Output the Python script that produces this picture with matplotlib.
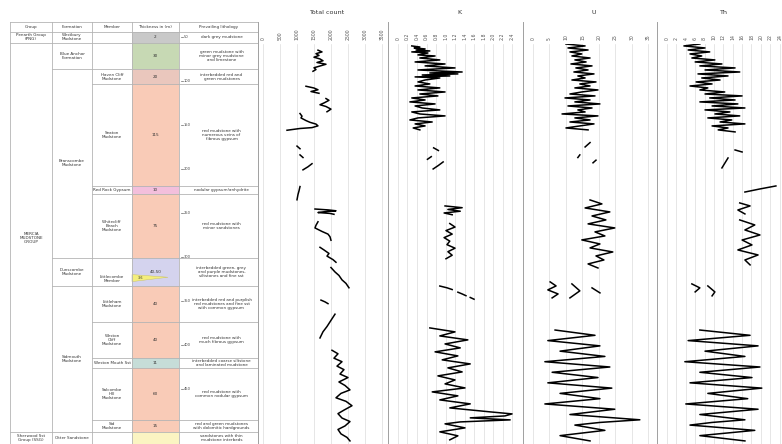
import numpy as np
import matplotlib
matplotlib.use("Agg")
import matplotlib.pyplot as plt
from matplotlib.patches import Rectangle, Polygon
from matplotlib.lines import Line2D

nan = np.nan

# ---------------- stratigraphic table data ----------------
columns = ["Group", "Formation", "Member", "Thickness in (m)", "Prevailing lithology"]
groups = ["Penarth Group\n(PNG)", "MERCIA\nMUDSTONE\nGROUP", "Sherwood Sst\nGroup (SSG)"]
group_tops = [44, 57, 499]
formations = ["Westbury\nMudstone", "Blue Anchor\nFormation", "Branscombe\nMudstone",
              "Dunscombe\nMudstone", "Sidmouth\nMudstone", "Otter Sandstone"]
formation_tops = [44, 57, 86, 301, 333, 499]
unit_tops = [44, 57, 86, 104, 219, 228, 301, 333, 374, 415, 426, 485, 499]
table_bottom = 512.5
members = ["", "", "Haven Cliff\nMudstone", "Seaton\nMudstone", "Red Rock Gypsum",
           "Whitecliff\nBeach\nMudstone", "", "Littleham\nMudstone", "Weston\nCliff\nMudstone",
           "Weston Mouth Sst", "Salcombe\nHill\nMudstone", "Sid\nMudstone", ""]
thickness = ["2", "30", "20", "115", "10", "75", "40-50", "40", "40", "11", "60", "15", ""]
unit_colors = ["#c9c9c9", "#c7d9b4", "#eac7bd", "#f9cbb7", "#f3bfdc", "#f9cbb7", "#d4d3ee",
               "#f9cbb7", "#f9cbb7", "#c6ddd8", "#f9cbb7", "#f9cbb7", "#fbf4c2"]
lithology = ["dark grey mudstone",
             "green mudstone with\nminor grey mudstone\nand limestone",
             "interbedded red and\ngreen mudstones",
             "red mudstone with\nnumerous veins of\nfibrous gypsum",
             "nodular gypsum/anhydrite",
             "red mudstone with\nminor sandstones",
             "interbedded green, grey\nand purple mudstones,\nsiltstones and fine sst",
             "interbedded red and purplish\nred mudstones and fine sst\nwith common gypsum",
             "red mudstone with\nmuch fibrous gypsum",
             "interbedded coarse siltstone\nand laminated mudstone",
             "red mudstone with\ncommon nodular gypsum",
             "red and green mudstones\nwith dolomitic hardgrounds",
             "sandstones with thin\nmudstone interbeds"]
wedge_name = "Littlecombe\nMember"
wedge_thickness = "3-6"
wedge_top, wedge_bottom = 320, 328
depth_marks = [50, 100, 150, 200, 250, 300, 350, 400, 450]

# ---------------- log data (depth in m) ----------------
tc_depth = [65, 67, 69, 71, 73, 75, 77, 79, 81, 83, 85, 87, 89, nan,
            106, 108, 110, 112, 114, nan,
            120, 122, 125, 127, 129, 132, 135, nan,
            137, 140, 142, 145, 147, 149, 151, 153, 154, 156, nan,
            174, 177, nan, 184, 187, nan, 194, 197.5, 201, nan,
            220, 225, 229, 235, nan,
            245.5, 246.5, 247.5, 248.5, 249.5, 250.5, 251.5, nan,
            260, 264, 267, 271, 274, 277, 281, nan,
            289, 292, 296, 299, 303, 306, nan,
            312, 317, 321, 326, 330, 335, nan,
            349, 351, 353, nan,
            365, 372, 379, 385, 392, nan,
            406, 410, 415, 419, 424, 428, 433, 437, 442, 446, 451, 455, 460, 464, 469, 474,
            478, 483, 487, 492, 496, 501, 505, 509]
tc_value = [1617, 1735, 1558, 1646, 1499, 1676, 1764, 1588, 1852, 1676, 1499, 1558, 1470, nan,
            1264, 1499, 1617, 1411, 1646, nan,
            1852, 1940, 1793, 1676, 1852, 1999, 1882, nan,
            1088, 1147, 1117, 1264, 1382, 1558, 1617, 1441, 1088, 706, nan,
            1000, 1088, nan, 1088, 1176, nan, 1441, 1323, 1176, nan,
            1088, 1058, 1029, 1000, nan,
            1529, 1911, 2146, 1823, 1617, 1970, 2087, nan,
            1617, 1558, 1529, 1735, 1911, 1970, 1999, nan,
            1676, 1793, 1940, 1882, 2058, 2146, nan,
            1999, 2117, 2234, 2323, 2440, 2528, nan,
            1705, 1823, 1911, nan,
            2117, 1999, 1882, 1764, 1676, nan,
            2029, 2205, 2087, 2323, 2176, 2381, 2264, 2499, 2234, 2411, 2558, 2293, 2146, 2440, 2617, 2381,
            2205, 2323, 2558, 2411, 2205, 2293, 2470, 2558]

k_depth = [60.2, 61.4, 62.5, 63.6, 64.8, 65.9, 67.0, 68.2, 70.4, 71.6, 73.9, 76.1, 78.4, 80.7, 82.9,
           85.2, 87.5, 89.8, 90.9, 92.0, 93.2, 94.3, 95.4, 96.6, 98.9, 101.1,
           103.4, 105.7, 107.9, 110.2, 112.5, 114.8, 117.0, 119.3, 121.6, 123.8, 126.1, 128.4,
           130.7, 132.9, 135.2, 137.5, 139.7, 142.0, 144.3, 146.6, 148.8, 151.1, 153.4, 155.6, nan,
           176, 179, nan, 186, 189, nan, 192, 196, 200, nan,
           242, 244, 246, 248, 250, 252, nan,
           262, 266, 270, 274, 278, 282, 286, 290, 294, 298, 302, nan,
           333, 335, 337, nan, 340, 342, 344, nan, 346, 348, nan,
           380.6, 385.1, 389.7, 394.2, 398.8, 403.3, 407.8, 412.4, 416.9, 421.5, 426.0, 430.6,
           435.1, 439.7, 444.2, 448.8, 453.3, 457.8, 462.4, 466.9, 471.5, 476.0, 478.3, 480.6,
           482.8, 485.1, 487.4, 489.6, 494.2, 498.7, 503.2, 507.8]
k_value = [0.29, 0.46, 0.34, 0.57, 0.38, 0.67, 0.29, 0.63, 0.42, 0.78, 0.46, 0.88, 0.36, 0.99, 0.57,
           1.20, 0.42, 1.35, 0.67, 1.26, 0.51, 1.09, 0.36, 0.88, 0.57, 0.42,
           0.67, 0.36, 0.88, 0.42, 0.99, 0.46, 0.84, 0.29, 0.57, 0.25, 0.78, 0.36,
           0.51, 0.88, 0.29, 0.46, 0.99, 0.42, 0.25, 0.72, 0.36, 0.57, 0.32, 0.46, nan,
           0.75, 0.85, nan, 0.70, 0.62, nan, 0.95, 0.85, 0.74, nan,
           0.99, 1.35, 1.05, 1.31, 0.97, 1.14, nan,
           1.09, 1.20, 1.01, 1.14, 0.97, 1.09, 1.03, 1.20, 1.05, 1.14, 1.01, nan,
           0.88, 1.03, 1.14, nan, 1.26, 1.35, 1.43, nan, 1.52, 1.60, nan,
           0.67, 1.20, 0.88, 1.47, 0.99, 1.31, 0.78, 1.26, 0.93, 1.52, 1.05, 1.35,
           0.84, 1.20, 0.99, 1.41, 0.72, 1.26, 0.88, 1.52, 1.09, 1.94, 2.40, 2.25,
           1.52, 2.36, 1.31, 0.99, 1.41, 0.88, 1.26, 1.09]

u_depth = [58.0, 60.2, 62.5, 64.8, 67.0, 69.3, 71.6, 73.9, 76.1, 78.4, 80.7, 82.9, 85.2, 87.5, 89.8,
           92.0, 94.3, 96.6, 98.9, 101.1, 103.4, 105.7, 107.9, 110.2, 112.5, 114.8, 117.0, 119.3,
           121.6, 123.8, 126.1, 128.4, 130.7, 132.9, 135.2, 137.5, 139.7, 142.0, 144.3, 146.6,
           148.8, 151.1, 153.4, 155.6, nan,
           170, 175, nan, 184, 187, nan, 190, 193, nan,
           235.2, 239.7, 244.3, 248.8, 253.4, 257.9, 262.4, 267.0, 271.5, 276.1, 280.6, 285.2,
           289.7, 294.3, 298.8, 303.4, 307.9, 312.5, nan,
           328.3, 332.9, 337.4, 342.0, 346.5, nan, 330.6, 338.5, 346.5, nan, 335.1, 340.8, nan,
           383, 389, 395, 401, 407, 413, 419, 425, 431, 437, 443, 449,
           455, 461, 467, 473, 479, 485, 488, 491, 497, 503, 509]
u_value = [10.0, 15.8, 10.6, 16.7, 11.2, 14.8, 11.8, 17.3, 12.7, 16.1, 11.5, 17.9, 13.0, 16.7, 12.4,
           18.5, 13.6, 15.8, 11.8, 19.1, 14.2, 17.3, 12.7, 19.7, 14.8, 11.2, 18.8, 9.7,
           17.3, 12.7, 20.3, 10.6, 17.9, 13.6, 15.8, 8.8, 19.7, 12.7, 17.3, 11.2,
           18.5, 14.2, 10.0, 16.7, nan,
           17.3, 15.8, nan, 14.2, 13.6, nan, 19.1, 18.2, nan,
           17.3, 20.9, 15.8, 23.3, 17.9, 22.1, 16.7, 24.8, 18.8, 21.8, 14.8, 20.3,
           17.3, 24.2, 19.1, 21.5, 16.7, 19.7, nan,
           5.2, 7.0, 4.5, 7.6, 5.8, nan, 11.8, 14.2, 11.2, nan, 17.9, 20.3, nan,
           6.7, 18.8, 4.5, 20.3, 8.2, 21.8, 3.6, 23.3, 5.8, 19.7, 4.5, 23.9,
           8.2, 20.3, 3.6, 24.8, 11.2, 32.4, 20.3, 12.7, 21.8, 8.2, 17.3]

th_depth = [58.0, 60.2, 62.5, 64.8, 67.0, 69.3, 71.6, 73.9, 76.1, 78.4, 80.7, 82.9, 85.2, 87.5, 89.8,
            92.0, 94.3, 96.6, 98.9, 101.1, 103.4, 105.7, 107.9, 110.2, 112.5, 114.8, 117.0, 119.3,
            121.6, 123.8, 126.1, 128.4, 130.7, 132.9, 135.2, 137.5, 139.7, 142.0, 144.3, 146.6,
            148.8, 151.1, 153.4, 155.6, 157.9, nan,
            178.4, 180.7, nan, 187.5, 198.8, nan, 219.3, 222.7, 226.2, nan,
            238.6, 242.0, 246.6, 251.1, nan,
            257.9, 263.6, 269.3, 275.0, 280.7, 286.3, 292.0, 297.7, 303.4, 309.0, nan,
            330.6, 335.1, 339.7, nan, 332.9, 339.7, 344.2, nan,
            383, 389, 395, 401, 407, 413, 419, 425, 431, 437, 443, 449,
            455, 461, 467, 473, 479, 485, 488, 491, 497, 503, 509]
th_value = [7.0, 3.6, 8.1, 4.5, 9.1, 4.9, 7.4, 5.3, 10.2, 6.0, 11.7, 7.0, 14.5, 8.1, 15.5,
            6.6, 13.0, 7.4, 11.3, 6.2, 9.6, 4.9, 8.7, 7.0, 12.3, 8.1, 16.0, 9.1,
            14.5, 7.0, 15.1, 9.6, 16.6, 8.1, 13.4, 10.2, 15.5, 8.7, 13.8, 11.3,
            16.6, 9.6, 13.0, 10.9, 14.5, nan,
            14.5, 16.0, nan, 13.0, 11.7, nan, 23.2, 19.8, 16.6, nan,
            15.5, 17.7, 15.1, 16.6, nan,
            15.5, 18.7, 16.6, 19.8, 16.0, 18.1, 15.1, 19.4, 16.6, 17.7, nan,
            5.3, 7.0, 6.0, nan, 8.7, 10.2, 9.6, nan,
            7.0, 17.7, 4.5, 19.4, 8.1, 16.6, 3.8, 19.8, 7.0, 18.1, 4.9, 20.2,
            8.7, 17.2, 4.0, 19.4, 7.0, 16.6, 9.6, 4.9, 18.7, 7.0, 16.6]

tc_ticks = [0, 500, 1000, 1500, 2000, 2500, 3000, 3500]
k_ticks = [0, 0.2, 0.4, 0.6, 0.8, 1.0, 1.2, 1.4, 1.6, 1.8, 2.0, 2.2, 2.4]
u_ticks = [0, 5, 10, 15, 20, 25, 30, 35]
th_ticks = [0, 2, 4, 6, 8, 10, 12, 14, 16, 18, 20, 22, 24]
panel_titles = ["Total count", "K", "U", "Th"]

# ---------------- layout ----------------
W, H = 782, 444
fig = plt.figure(figsize=(W / 100, H / 100), dpi=100)
fig.patch.set_facecolor("white")


def box(x0, y0, x1, y1):
    return [x0 / W, 1 - y1 / H, (x1 - x0) / W, (y1 - y0) / H]


FS = 3.0
LC = "#b4b4b4"
header_top, header_bot = 33.0, 44.0
col_x = [0, 42, 82, 122, 169, 248]

tab = fig.add_axes(box(10, 22, 258, 444))
tab.set_xlim(0, 248)
tab.set_ylim(table_bottom, header_top)
tab.axis("off")

unit_bottoms = unit_tops[1:] + [table_bottom]
for top, bot, c in zip(unit_tops, unit_bottoms, unit_colors):
    tab.add_patch(Rectangle((col_x[3], top), col_x[4] - col_x[3], bot - top,
                            facecolor=c, edgecolor="none", zorder=1))

# wedge
tab.add_patch(Polygon([(col_x[3], wedge_top), (col_x[3] + 36, (wedge_top + wedge_bottom) / 2 - 1),
                       (col_x[3], wedge_bottom)], closed=True, facecolor="#f4ee7c",
                      edgecolor="#c8c060", lw=0.3, zorder=2))
tab.text(col_x[3] + 8, (wedge_top + wedge_bottom) / 2, wedge_thickness, fontsize=2.4,
         ha="center", va="center", zorder=3, color="#333")
tab.text((col_x[2] + col_x[3]) / 2, wedge_top + 5, wedge_name, fontsize=FS,
         ha="center", va="center", color="#333", linespacing=1.0)

# grid lines
for x in col_x:
    tab.plot([x, x], [header_top, table_bottom], color=LC, lw=0.6, zorder=4)
tab.plot([0, 248], [header_top, header_top], color=LC, lw=0.6, zorder=4)
tab.plot([0, 248], [header_bot, header_bot], color=LC, lw=0.6, zorder=4)
for t in unit_tops[1:]:
    if t in group_tops:
        x0 = col_x[0]
    elif t in formation_tops:
        x0 = col_x[1]
    else:
        x0 = col_x[2]
    tab.plot([x0, 248], [t, t], color=LC, lw=0.6, zorder=4)

# header
for i, name in enumerate(columns):
    tab.text((col_x[i] + col_x[i + 1]) / 2, (header_top + header_bot) / 2, name,
             fontsize=FS, ha="center", va="center", color="#333")

tc = "#333333"
g_bottoms = group_tops[1:] + [table_bottom]
for name, t, b in zip(groups, group_tops, g_bottoms):
    tab.text((col_x[0] + col_x[1]) / 2, (t + b) / 2, name, fontsize=FS, ha="center",
             va="center", color=tc, linespacing=1.0)
f_bottoms = formation_tops[1:] + [table_bottom]
for name, t, b in zip(formations, formation_tops, f_bottoms):
    tab.text((col_x[1] + col_x[2]) / 2, (t + b) / 2, name, fontsize=FS, ha="center",
             va="center", color=tc, linespacing=1.0)
for name, th, lit, t, b in zip(members, thickness, lithology, unit_tops, unit_bottoms):
    m = (t + b) / 2
    if name:
        tab.text((col_x[2] + col_x[3]) / 2, m, name, fontsize=FS, ha="center", va="center",
                 color=tc, linespacing=1.0)
    if th:
        tab.text((col_x[3] + col_x[4]) / 2, m, th, fontsize=FS, ha="center", va="center",
                 color=tc)
    tab.text((col_x[4] + col_x[5]) / 2 + 3, m, lit, fontsize=FS, ha="center", va="center",
             color=tc, linespacing=1.0)

for d in depth_marks:
    tab.plot([col_x[4] + 1.5, col_x[4] + 3.5], [d, d], color="#666", lw=0.5)
    tab.text(col_x[4] + 5, d, str(d), fontsize=2.6, ha="left", va="center", color="#444")

# ---------------- log panels ----------------
panels = [
    (258, 388, tc_depth, tc_value, tc_ticks, (-147, 3676), [str(t) for t in tc_ticks]),
    (388, 523, k_depth, k_value, k_ticks, (-0.21, 2.63), ["0"] + [f"{t:.1f}" for t in k_ticks[1:]]),
    (523, 657, u_depth, u_value, u_ticks, (-3.03, 37.6), [str(t) for t in u_ticks]),
    (657, 782, th_depth, th_value, th_ticks, (-2.13, 24.5), [str(t) for t in th_ticks]),
]
for (x0, x1, dep, val, ticks, xlim, labels), title in zip(panels, panel_titles):
    ax = fig.add_axes(box(x0, 44, x1, 444))
    ax.set_xlim(*xlim)
    ax.set_ylim(table_bottom, 58)
    ax.set_facecolor("none")
    for s in ax.spines.values():
        s.set_visible(False)
    ax.set_yticks([])
    ax.set_xticks(ticks)
    ax.set_xticklabels(labels, rotation=90, fontsize=3.3, color="#555")
    ax.xaxis.tick_top()
    ax.tick_params(axis="x", length=0, pad=3)
    ax.grid(axis="x", color="#dcdcdc", lw=0.5)
    ax.set_axisbelow(True)
    ax.plot(val, dep, color="black", lw=1.1, solid_joinstyle="round")
    fig.text(((x0 + x1) / 2 + 4) / W, 1 - 12 / H, title, fontsize=4.6, ha="center",
             va="center", color="#333")

for x in [258, 388, 523, 657]:
    fig.add_artist(Line2D([x / W, x / W], [1 - 22 / H, 0], color="#a0a0a0", lw=0.7))

fig.savefig("out.png", dpi=100, facecolor="white")
